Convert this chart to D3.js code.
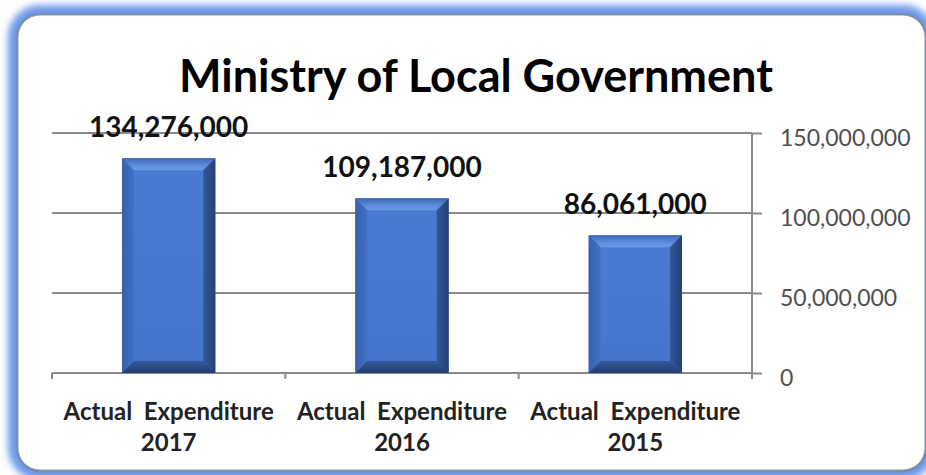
<!DOCTYPE html>
<html>
<head>
<meta charset="utf-8">
<script src="https://cdn.jsdelivr.net/npm/d3@7"></script>
<style>
  html, body { margin: 0; padding: 0; background: #ffffff; }
  svg { display: block; }
  text { font-family: Lato, "Open Sans", sans-serif; white-space: pre; }
</style>
</head>
<body>
<svg id="chart" width="926" height="475"></svg>
<script>
// Expenditure by year
const categories = ["Actual  Expenditure 2017", "Actual  Expenditure 2016", "Actual  Expenditure 2015"];
const values = [134276000, 109187000, 86061000];
const yTicks = [0, 50000000, 100000000, 150000000];
const title = "Ministry of Local Government";

const svg = d3.select("#chart");
const defs = svg.append("defs");

// soft blue glow around the chart card
defs.append("filter").attr("id", "glow")
  .attr("x", "-10%").attr("y", "-10%").attr("width", "120%").attr("height", "120%")
  .append("feGaussianBlur").attr("stdDeviation", 3.5);
defs.append("filter").attr("id", "edgeShadow")
  .attr("x", "-10%").attr("y", "-10%").attr("width", "120%").attr("height", "120%")
  .append("feGaussianBlur").attr("stdDeviation", 1.2);

// bevel facet gradients
function grad(id, x1, y1, x2, y2, stops) {
  const g = defs.append("linearGradient").attr("id", id)
    .attr("x1", x1).attr("y1", y1).attr("x2", x2).attr("y2", y2);
  stops.forEach(s => g.append("stop").attr("offset", s[0]).attr("stop-color", s[1]));
}
grad("bevTop", 0, 0, 0, 1, [[0, "#3d67b6"], [0.55, "#5a8ad9"], [1, "#6c9be6"]]);
grad("bevLeft", 0, 0, 1, 0, [[0, "#3560ad"], [1, "#4272c6"]]);
grad("bevRight", 0, 0, 1, 0, [[0, "#34589b"], [1, "#243f74"]]);
grad("bevBottom", 0, 0, 0, 1, [[0, "#34599c"], [1, "#233e72"]]);
grad("face", 0, 0, 0, 1, [[0, "#4b7cd1"], [1, "#4676cb"]]);

const card = { x: 18, y: 15, w: 907, h: 455, r: 22 };
svg.append("rect")
  .attr("x", card.x).attr("y", card.y).attr("width", card.w).attr("height", card.h)
  .attr("rx", card.r)
  .attr("fill", "none").attr("stroke", "#6d9ae9").attr("stroke-width", 20)
  .attr("filter", "url(#glow)");
svg.append("rect")
  .attr("x", card.x).attr("y", card.y).attr("width", card.w).attr("height", card.h)
  .attr("rx", card.r)
  .attr("fill", "none").attr("stroke", "#6f7f99").attr("stroke-width", 2.5)
  .attr("filter", "url(#edgeShadow)");
svg.append("rect")
  .attr("x", card.x).attr("y", card.y).attr("width", card.w).attr("height", card.h)
  .attr("rx", card.r)
  .attr("fill", "#ffffff").attr("stroke", "#9a9a9a").attr("stroke-width", 1);

// scales
const plotLeft = 52, plotRight = 752, plotBottom = 373, plotTop = 133;
const x = d3.scaleBand().domain(categories).range([plotLeft, plotRight])
  .paddingInner(0.6).paddingOuter(0.3);
const y = d3.scaleLinear().domain([0, 150000000]).range([plotBottom, plotTop]);
const fmt = d3.format(",");

// title
svg.append("text")
  .attr("x", 476).attr("y", 92)
  .attr("text-anchor", "middle")
  .attr("font-size", 45).attr("font-weight", 700).attr("fill", "#000000")
  .text(title);

// gridlines
svg.append("g").selectAll("line").data(yTicks.filter(t => t > 0)).join("line")
  .attr("x1", plotLeft).attr("x2", plotRight)
  .attr("y1", d => y(d)).attr("y2", d => y(d))
  .attr("stroke", "#8a8a8a").attr("stroke-width", 2);

// right value axis
const yAxis = svg.append("g")
  .attr("transform", `translate(${plotRight},0)`)
  .call(d3.axisRight(y).tickValues(yTicks).tickSize(10).tickPadding(18).tickFormat(fmt));
yAxis.select(".domain").remove();
yAxis.selectAll(".tick line").attr("stroke", "#8a8a8a").attr("stroke-width", 2);
yAxis.selectAll(".tick text")
  .attr("font-family", "Lato, sans-serif").attr("font-size", 23)
  .attr("fill", "#4f4f4f").attr("dy", "0.85em").attr("y", -7);
yAxis.append("line")
  .attr("x1", 0).attr("x2", 0).attr("y1", plotTop).attr("y2", plotBottom + 6)
  .attr("stroke", "#8a8a8a").attr("stroke-width", 2);

// category axis
const xAxis = svg.append("g");
xAxis.append("line")
  .attr("x1", plotLeft).attr("x2", plotRight).attr("y1", plotBottom).attr("y2", plotBottom)
  .attr("stroke", "#8a8a8a").attr("stroke-width", 2);
const bounds = categories.map(c => x(c) - x.step() * x.paddingInner() / 2);
bounds.push(plotRight);
xAxis.selectAll("line.tick").data(bounds).join("line").attr("class", "tick")
  .attr("x1", d => d).attr("x2", d => d)
  .attr("y1", plotBottom).attr("y2", plotBottom + 6)
  .attr("stroke", "#8a8a8a").attr("stroke-width", 2);

const catLabels = svg.append("g").selectAll("text").data(categories).join("text")
  .attr("text-anchor", "middle")
  .attr("font-size", 24).attr("font-weight", 700).attr("fill", "#222222");
catLabels.each(function (d) {
  const cut = d.lastIndexOf(" ");
  const cx = x(d) + x.bandwidth() / 2;
  const t = d3.select(this);
  t.append("tspan").attr("x", cx).attr("y", 420).text(d.slice(0, cut));
  t.append("tspan").attr("x", cx).attr("y", 451).text(d.slice(cut + 1));
});

// bevelled bars
const bev = 12;
const bars = svg.append("g").selectAll("g").data(categories).join("g");
bars.each(function (d, i) {
  const g = d3.select(this);
  const x0 = x(d), w = x.bandwidth();
  const y0 = y(values[i]), y1 = y(0);
  const x1 = x0 + w;
  const b = Math.min(bev, (y1 - y0) / 2);
  g.append("rect").attr("x", x0).attr("y", y0).attr("width", w).attr("height", y1 - y0)
    .attr("fill", "url(#face)");
  const poly = (pts, fill) => g.append("polygon")
    .attr("points", pts.map(p => p.join(",")).join(" ")).attr("fill", fill);
  poly([[x0, y0], [x1, y0], [x1 - b, y0 + b], [x0 + b, y0 + b]], "url(#bevTop)");
  poly([[x0, y0], [x0 + b, y0 + b], [x0 + b, y1 - b], [x0, y1]], "url(#bevLeft)");
  poly([[x1, y0], [x1, y1], [x1 - b, y1 - b], [x1 - b, y0 + b]], "url(#bevRight)");
  poly([[x0, y1], [x0 + b, y1 - b], [x1 - b, y1 - b], [x1, y1]], "url(#bevBottom)");
});

// value labels
svg.append("g").selectAll("text").data(categories).join("text")
  .attr("x", d => x(d) + x.bandwidth() / 2)
  .attr("y", (d, i) => y(values[i]) - 21)
  .attr("text-anchor", "middle")
  .attr("font-size", 28).attr("font-weight", 700).attr("fill", "#111111")
  .text((d, i) => fmt(values[i]));
</script>
</body>
</html>
